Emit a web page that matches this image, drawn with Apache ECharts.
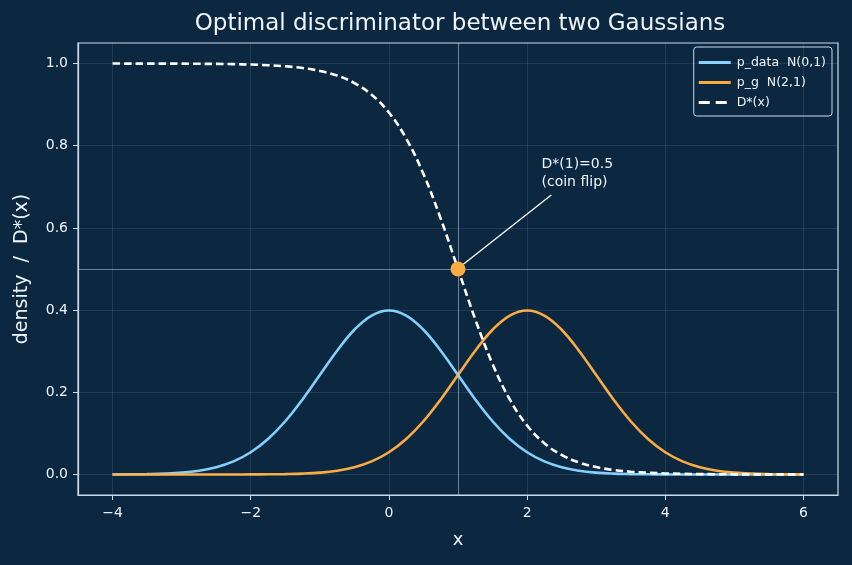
<!DOCTYPE html>
<html>
<head>
<meta charset="utf-8">
<script src="https://cdn.jsdelivr.net/npm/echarts@6/dist/echarts.min.js"></script>
<style>
  html, body { margin: 0; padding: 0; background: #0c2740; }
  #main { width: 852px; height: 565px; }
</style>
</head>
<body>
<div id="main"></div>
<script>
// x grid, step 0.25 from -4 to 6
const xs = [-4, -3.75, -3.5, -3.25, -3, -2.75, -2.5, -2.25, -2, -1.75, -1.5, -1.25, -1, -0.75, -0.5, -0.25,
  0, 0.25, 0.5, 0.75, 1, 1.25, 1.5, 1.75, 2, 2.25, 2.5, 2.75, 3, 3.25, 3.5, 3.75, 4, 4.25, 4.5, 4.75,
  5, 5.25, 5.5, 5.75, 6];
const pData = [0.0001, 0.0004, 0.0009, 0.0020, 0.0044, 0.0091, 0.0175, 0.0317, 0.0540, 0.0863, 0.1295, 0.1826,
  0.2420, 0.3011, 0.3521, 0.3867, 0.3989, 0.3867, 0.3521, 0.3011, 0.2420, 0.1826, 0.1295, 0.0863, 0.0540,
  0.0317, 0.0175, 0.0091, 0.0044, 0.0020, 0.0009, 0.0004, 0.0001, 0, 0, 0, 0, 0, 0, 0, 0];
const pG = [0, 0, 0, 0, 0, 0, 0, 0, 0.0001, 0.0004, 0.0009, 0.0020, 0.0044, 0.0091, 0.0175, 0.0317, 0.0540,
  0.0863, 0.1295, 0.1826, 0.2420, 0.3011, 0.3521, 0.3867, 0.3989, 0.3867, 0.3521, 0.3011, 0.2420, 0.1826,
  0.1295, 0.0863, 0.0540, 0.0317, 0.0175, 0.0091, 0.0044, 0.0020, 0.0009, 0.0004, 0.0001];
const dStar = [1.0, 0.9999, 0.9999, 0.9998, 0.9997, 0.9994, 0.9991, 0.9985, 0.9975, 0.9959, 0.9933, 0.9890,
  0.9820, 0.9707, 0.9526, 0.9241, 0.8808, 0.8176, 0.7311, 0.6225, 0.5, 0.3775, 0.2689, 0.1824, 0.1192,
  0.0759, 0.0474, 0.0293, 0.0180, 0.0110, 0.0067, 0.0041, 0.0025, 0.0015, 0.0009, 0.0006, 0.0003, 0.0002,
  0.0001, 0.0001, 0.0000];
const coinPoint = [1, 0.5];
const xTicks = [-4, -2, 0, 2, 4, 6];
const yTicks = [0, 0.2, 0.4, 0.6, 0.8, 1.0];

const pairs = (ys) => xs.map((x, i) => [x, ys[i]]);

const FONT = 'DejaVu Sans';
const FRAME = '#c9dcec';
const TEXT = '#eef4fa';
const BLUE = '#84cffb';
const ORANGE = '#fbac40';
const GRIDC = 'rgba(255,255,255,0.12)';
const SOLID_ICON = 'path://M0,0h32v3h-32z';
const DASH_ICON = 'path://M0,0h11v3h-11z M17,0h11v3h-11z M32,0h0.01v3h-0.01z';

let chart = echarts.init(document.getElementById('main'));

let option = {
  backgroundColor: '#0c2740',
  animation: false,
  textStyle: { fontFamily: FONT },
  title: {
    text: 'Optimal discriminator between two Gaussians',
    left: 455, top: 8, textAlign: 'center',
    textStyle: { color: TEXT, fontSize: 23, fontWeight: 'normal', fontFamily: FONT }
  },
  grid: {
    left: 78, right: 14, top: 43, bottom: 70,
    show: true, borderColor: FRAME, borderWidth: 1.2, backgroundColor: 'transparent'
  },
  legend: {
    right: 20, top: 47, orient: 'vertical',
    itemWidth: 34, itemHeight: 3, itemGap: 7,
    padding: [9, 6, 7, 5],
    borderColor: FRAME, borderWidth: 1, borderRadius: 3,
    backgroundColor: '#0c2740',
    textStyle: { color: TEXT, fontSize: 12.5, fontFamily: FONT },
    data: [
      { name: 'p_data  N(0,1)', icon: SOLID_ICON },
      { name: 'p_g  N(2,1)', icon: SOLID_ICON },
      { name: 'D*(x)', icon: DASH_ICON }
    ]
  },
  xAxis: {
    type: 'value', min: -4.5, max: 6.5, interval: 2,
    name: 'x', nameLocation: 'middle', nameGap: 36,
    nameTextStyle: { color: TEXT, fontSize: 18, fontFamily: FONT },
    axisLine: { show: true, onZero: false, lineStyle: { color: FRAME, width: 1.2 } },
    axisTick: { show: true, length: 5, customValues: xTicks, lineStyle: { color: FRAME } },
    axisLabel: {
      color: TEXT, fontSize: 14, margin: 11, fontFamily: FONT,
      customValues: xTicks,
      formatter: v => (v < 0 ? '\u2212' + Math.abs(v) : String(v))
    },
    splitLine: { show: false }
  },
  yAxis: {
    type: 'value', min: -0.05, max: 1.05,
    name: 'density  /  D*(x)', nameLocation: 'middle', nameGap: 46,
    nameTextStyle: { color: TEXT, fontSize: 19, fontFamily: FONT },
    axisLine: { show: true, onZero: false, lineStyle: { color: FRAME, width: 1.2 } },
    axisTick: { show: true, length: 5, customValues: yTicks, lineStyle: { color: FRAME } },
    axisLabel: {
      color: TEXT, fontSize: 14, margin: 10, fontFamily: FONT,
      customValues: yTicks,
      formatter: v => v.toFixed(1)
    },
    splitLine: { show: false }
  },
  series: [
    {
      name: 'grid', type: 'line', data: [], silent: true,
      markLine: {
        silent: true, symbol: 'none', label: { show: false },
        lineStyle: { color: GRIDC, width: 0.8, type: 'solid' },
        data: yTicks.map(v => ({ yAxis: v })).concat(xTicks.map(v => ({ xAxis: v })))
      }
    },
    {
      name: 'p_data  N(0,1)', type: 'line', data: pairs(pData),
      smooth: 0.4, symbol: 'none',
      lineStyle: { color: BLUE, width: 2.6 }, itemStyle: { color: BLUE },
      markLine: {
        silent: true, symbol: 'none', label: { show: false },
        lineStyle: { color: 'rgba(200,220,236,0.5)', width: 1.1, type: 'solid' },
        data: [{ xAxis: 1 }, { yAxis: 0.5 }]
      }
    },
    {
      name: 'p_g  N(2,1)', type: 'line', data: pairs(pG),
      smooth: 0.4, symbol: 'none',
      lineStyle: { color: ORANGE, width: 2.6 }, itemStyle: { color: ORANGE }
    },
    {
      name: 'D*(x)', type: 'line', data: pairs(dStar),
      smooth: 0.4, symbol: 'none',
      lineStyle: { color: '#ffffff', width: 2.6, type: [7.5, 4] }, itemStyle: { color: '#ffffff' },
      markLine: {
        silent: true, symbol: ['none', 'arrow'], symbolSize: [0, 10],
        label: { show: false },
        lineStyle: { color: '#ffffff', width: 1.3, type: 'solid' },
        data: [[{ coord: [2.35, 0.68] }, { coord: [1.05, 0.508] }]]
      }
    },
    {
      name: 'coin', type: 'scatter', data: [coinPoint], z: 10,
      symbolSize: 15, itemStyle: { color: ORANGE, opacity: 1 },
      label: {
        show: true, position: 'right',
        offset: [71, -96],
        align: 'left',
        formatter: 'D*(1)=0.5\n(coin flip)',
        color: TEXT, fontSize: 14, lineHeight: 18, fontFamily: FONT
      }
    }
  ]
};

chart.setOption(option);
</script>
</body>
</html>
